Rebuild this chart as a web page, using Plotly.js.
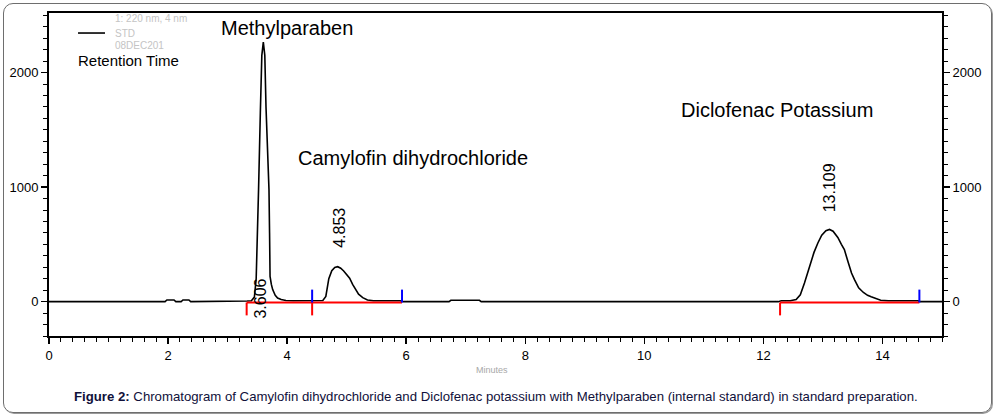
<!DOCTYPE html>
<html>
<head>
<meta charset="utf-8">
<script src="https://cdn.plot.ly/plotly-3.0.1.min.js"></script>
<style>
html,body{margin:0;padding:0;background:#fff;}
#wrap{position:relative;width:997px;height:418px;}
#chart{width:997px;height:418px;}
#frame{position:absolute;left:3px;top:3px;width:987px;height:408px;border:1px solid #6e6e6e;border-radius:10px;box-shadow:1px 1px 0 #9a9a9a;pointer-events:none;}
</style>
</head>
<body>
<div id="wrap"><div id="chart"></div><div id="frame"></div></div>
<script>
// Chromatogram signal (minutes vs mAU)
var timeMin = [0, 1.95, 1.98, 2.10, 2.13, 2.22, 2.25, 2.35, 2.38, 3.30, 3.33, 3.40, 3.45, 3.48, 3.50, 3.52, 3.55, 3.575, 3.60, 3.625, 3.645, 3.67, 3.695, 3.705, 3.713, 3.735, 3.757, 3.80, 3.84, 3.90, 3.98, 4.10, 4.40, 4.45, 4.55, 4.60, 4.65, 4.70, 4.75, 4.80, 4.85, 4.90, 4.95, 5.00, 5.05, 5.10, 5.15, 5.20, 5.27, 5.35, 5.45, 5.60, 5.90, 5.95, 6.72, 6.75, 7.23, 7.26, 12.25, 12.30, 12.45, 12.55, 12.62, 12.69, 12.78, 12.85, 12.915, 12.98, 13.05, 13.11, 13.17, 13.25, 13.31, 13.36, 13.42, 13.48, 13.53, 13.60, 13.68, 13.75, 13.81, 13.90, 13.97, 14.10, 14.30, 14.60, 14.63, 15];
var signal = [0, 0, 14, 14, 0, 0, 14, 14, 0, 0, 5, 8, 40, 200, 500, 980, 1650, 2150, 2265, 2150, 1700, 1300, 980, 600, 221, 150, 105, 55, 32, 18, 10, 8, 8, 5, 5, 10, 45, 200, 270, 298, 305, 292, 268, 240, 205, 150, 105, 65, 35, 15, 8, 8, 8, 0, 0, 12, 12, 0, 0, 8, 8, 18, 60, 163, 320, 430, 512, 580, 620, 630, 615, 560, 500, 454, 350, 250, 192, 120, 80, 55, 42, 22, 12, 8, 8, 8, 0, 0];

// Integration baselines (start / end, minutes)
var baseStart = [3.32, 4.42, 12.28];
var baseEnd = [4.42, 5.93, 14.62];

// Peak retention-time labels
var peakTimes = [3.606, 4.853, 13.109];
var peakLabels = ['3.606', '4.853', '13.109'];
var peakLabelY = [26, 646, 996];
var peakLabelX = [3.56, 4.874, 13.115];

// Compound names
var compoundNames = ['Methylparaben', 'Camylofin dihydrochloride', 'Diclofenac Potassium'];
var compoundX = [3.995, 6.106, 12.23];
var compoundY = [2393, 1258, 1677];

// Axis ticks
var xTicks = [0, 2, 4, 6, 8, 10, 12, 14];
var yTicks = [0, 1000, 2000];

var redX = [], redY = [], redTickX = [], redTickY = [], blueX = [], blueY = [];
for (var i = 0; i < baseStart.length; i++) {
  redX.push(baseStart[i], baseEnd[i], null); redY.push(-8, -8, null);
  redTickX.push(baseStart[i], baseStart[i], null); redTickY.push(-8, -120, null);
  blueX.push(baseEnd[i], baseEnd[i], null); blueY.push(-8, 105, null);
}

var traces = [
  {x: redX, y: redY, mode: 'lines', line: {color: '#ff0000', width: 2}, yaxis: 'y2', hoverinfo: 'skip', showlegend: false},
  {x: redTickX, y: redTickY, mode: 'lines', line: {color: '#ff0000', width: 2}, yaxis: 'y2', hoverinfo: 'skip', showlegend: false},
  {x: blueX, y: blueY, mode: 'lines', line: {color: '#0000ff', width: 2}, yaxis: 'y2', hoverinfo: 'skip', showlegend: false},
  {x: timeMin, y: signal, mode: 'lines', line: {color: '#000000', width: 1.6}, name: 'STD', showlegend: false}
];

var F = 'Liberation Sans, Arial, sans-serif';
var annotations = [];
for (var j = 0; j < compoundNames.length; j++) {
  annotations.push({x: compoundX[j], y: compoundY[j], xref: 'x', yref: 'y', xanchor: 'center', yanchor: 'middle', text: compoundNames[j], showarrow: false, font: {family: F, size: 20, color: '#000'}});
}
for (var k = 0; k < peakLabels.length; k++) {
  annotations.push({x: peakLabelX[k], y: peakLabelY[k], xref: 'x', yref: 'y', xanchor: 'center', yanchor: 'middle', text: peakLabels[k], textangle: -90, showarrow: false, font: {family: F, size: 16, color: '#000'}});
}
annotations.push(
  {x: 0.0305, y: 0.852, xref: 'paper', yref: 'paper', xanchor: 'left', yanchor: 'middle', text: 'Retention Time', showarrow: false, font: {family: F, size: 15, color: '#000'}},
  {x: 0.072, y: 0.9845, xref: 'paper', yref: 'paper', xanchor: 'left', yanchor: 'middle', text: '1: 220 nm, 4 nm', showarrow: false, font: {family: F, size: 10, color: '#c4c4c4'}},
  {x: 0.072, y: 0.938, xref: 'paper', yref: 'paper', xanchor: 'left', yanchor: 'middle', text: 'STD', showarrow: false, font: {family: F, size: 10, color: '#c4c4c4'}},
  {x: 0.072, y: 0.899, xref: 'paper', yref: 'paper', xanchor: 'left', yanchor: 'middle', text: '08DEC201', showarrow: false, font: {family: F, size: 10, color: '#c4c4c4'}},
  {x: 0.496, y: -0.105, xref: 'paper', yref: 'paper', xanchor: 'center', yanchor: 'middle', text: 'Minutes', showarrow: false, font: {family: F, size: 9, color: '#a8a8a8'}},
  {x: 0.5, y: -0.186, xref: 'paper', yref: 'paper', xanchor: 'center', yanchor: 'middle', text: '<b>Figure 2:</b> Chromatogram of Camylofin dihydrochloride and Diclofenac potassium with Methylparaben (internal standard) in standard preparation.', showarrow: false, font: {family: F, size: 13.2, color: '#10103a'}}
);

var axisCommon = {showgrid: false, zeroline: false, showline: true, linecolor: '#000', linewidth: 2, ticks: 'outside', ticklen: 6, tickwidth: 1.5, tickcolor: '#000', tickfont: {family: F, size: 13, color: '#000'}};

var layout = {
  width: 997, height: 418,
  margin: {l: 49, r: 55, t: 13, b: 82},
  paper_bgcolor: '#fff', plot_bgcolor: '#fff',
  showlegend: false,
  xaxis: Object.assign({}, axisCommon, {range: [0, 15], tickvals: xTicks, ticktext: xTicks.map(String), mirror: true, minor: {dtick: 0.2, tick0: 0, ticks: 'outside', ticklen: 4, tickwidth: 1, tickcolor: '#000'}}),
  yaxis: Object.assign({}, axisCommon, {range: [-300, 2520], tickvals: yTicks, ticktext: yTicks.map(String), minor: {dtick: 100, tick0: 0, ticks: 'outside', ticklen: 4, tickwidth: 1, tickcolor: '#000'}}),
  yaxis2: Object.assign({}, axisCommon, {range: [-300, 2520], overlaying: 'y', side: 'right', tickvals: yTicks, ticktext: yTicks.map(String), minor: {dtick: 100, tick0: 0, ticks: 'outside', ticklen: 4, tickwidth: 1, tickcolor: '#000'}}),
  shapes: [
    {type: 'line', xref: 'paper', yref: 'paper', x0: 0.0325, x1: 0.0627, y0: 0.938, y1: 0.938, line: {color: '#000', width: 1.6}}
  ],
  annotations: annotations
};

Plotly.newPlot('chart', traces, layout, {staticPlot: true, displayModeBar: false});
</script>
</body>
</html>
